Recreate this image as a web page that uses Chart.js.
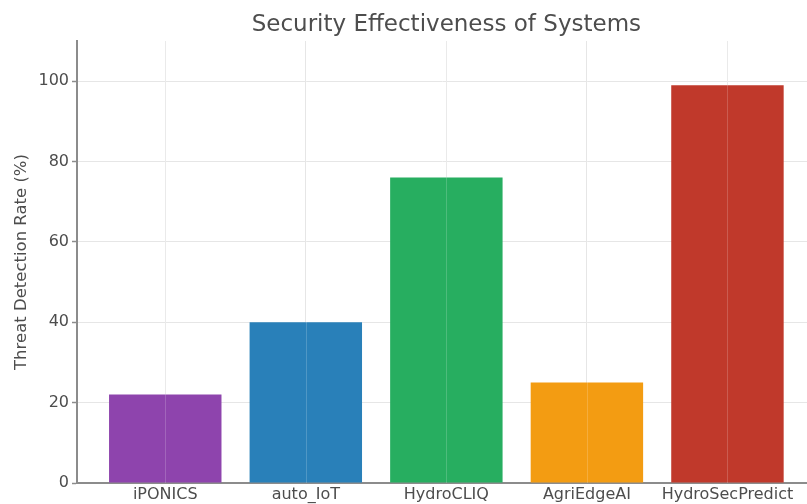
<!DOCTYPE html>
<html>
<head>
<meta charset="utf-8">
<title>Security Effectiveness of Systems</title>
<script src="https://cdn.jsdelivr.net/npm/chart.js@4"></script>
<style>
  html, body { margin: 0; padding: 0; background: #ffffff; }
  #wrap { width: 807px; height: 504px; position: relative; }
</style>
</head>
<body>
<div id="wrap"><canvas id="chart" width="807" height="504"></canvas></div>
<script>
// Threat detection rate per system (%)
const systems = ["iPONICS", "auto_IoT", "HydroCLIQ", "AgriEdgeAI", "HydroSecPredict"];
const detectionRate = [22, 40, 76, 25, 99];
const barColors = ["#8e44ad", "#2980b9", "#27ae60", "#f39c12", "#c0392b"];
const yTicks = [0, 20, 40, 60, 80, 100];

const chartTitle = "Security Effectiveness of Systems";
const yTitle = "Threat Detection Rate (%)";

const textColor = "#4d4d4d";
const font = "DejaVu Sans";

// Title centred over the middle category of the axes
const titlePlugin = {
  id: "centredTitle",
  afterDraw(chart) {
    const ctx = chart.ctx;
    const x = chart.scales.x.getPixelForValue((systems.length - 1) / 2);
    ctx.save();
    ctx.font = "23px '" + font + "'";
    ctx.fillStyle = textColor;
    ctx.textAlign = "center";
    ctx.textBaseline = "middle";
    ctx.fillText(chartTitle, x, 25);
    ctx.restore();
  }
};

// Faint vertical grid lines that stay visible across the bars
const overGrid = {
  id: "overGrid",
  afterDatasetsDraw(chart) {
    const ctx = chart.ctx;
    const xs = chart.scales.x;
    const area = chart.chartArea;
    ctx.save();
    ctx.strokeStyle = "rgba(255,255,255,0.18)";
    ctx.lineWidth = 1;
    xs.ticks.forEach(t => {
      const px = Math.round(xs.getPixelForValue(t.value)) + 0.5;
      ctx.beginPath();
      ctx.moveTo(px, area.top);
      ctx.lineTo(px, area.bottom);
      ctx.stroke();
    });
    ctx.restore();
  }
};

new Chart(document.getElementById("chart"), {
  type: "bar",
  data: {
    datasets: [{
      data: systems.map((s, i) => ({ x: i, y: detectionRate[i] })),
      backgroundColor: barColors,
      borderWidth: 0,
      barPercentage: 0.8,
      categoryPercentage: 1.0
    }]
  },
  options: {
    responsive: false,
    animation: false,
    layout: { padding: { top: 41, right: 0, bottom: 0, left: 0 } },
    plugins: {
      legend: { display: false },
      tooltip: { enabled: false },
      title: { display: false }
    },
    scales: {
      x: {
        type: "linear",
        offset: false,
        min: -0.628,
        max: 4.566,
        afterBuildTicks(scale) {
          scale.ticks = systems.map((s, i) => ({ value: i }));
        },
        afterFit(scale) { scale.height = 21; },
        ticks: {
          autoSkip: false,
          maxRotation: 0,
          padding: 2,
          color: textColor,
          font: { family: font, size: 16 },
          callback: (v) => systems[v]
        },
        grid: {
          offset: false,
          color: "#e6e6e6",
          lineWidth: 1,
          drawTicks: false
        },
        border: { display: true, color: "#8c8c8c", width: 2 }
      },
      y: {
        type: "linear",
        min: 0,
        max: 110,
        afterBuildTicks(scale) {
          scale.ticks = yTicks.map(v => ({ value: v }));
        },
        afterFit(scale) { scale.width = 77; },
        ticks: {
          padding: 3,
          color: textColor,
          font: { family: font, size: 16 }
        },
        grid: {
          color: "#e6e6e6",
          lineWidth: 1,
          drawTicks: true,
          tickLength: 5,
          tickColor: "#8c8c8c",
          tickWidth: 1.5
        },
        border: { display: true, color: "#8c8c8c", width: 2 },
        title: {
          display: true,
          text: yTitle,
          color: textColor,
          font: { family: font, size: 16.5 },
          padding: { top: 12, bottom: 0 }
        }
      }
    }
  },
  plugins: [titlePlugin, overGrid]
});
</script>
</body>
</html>
